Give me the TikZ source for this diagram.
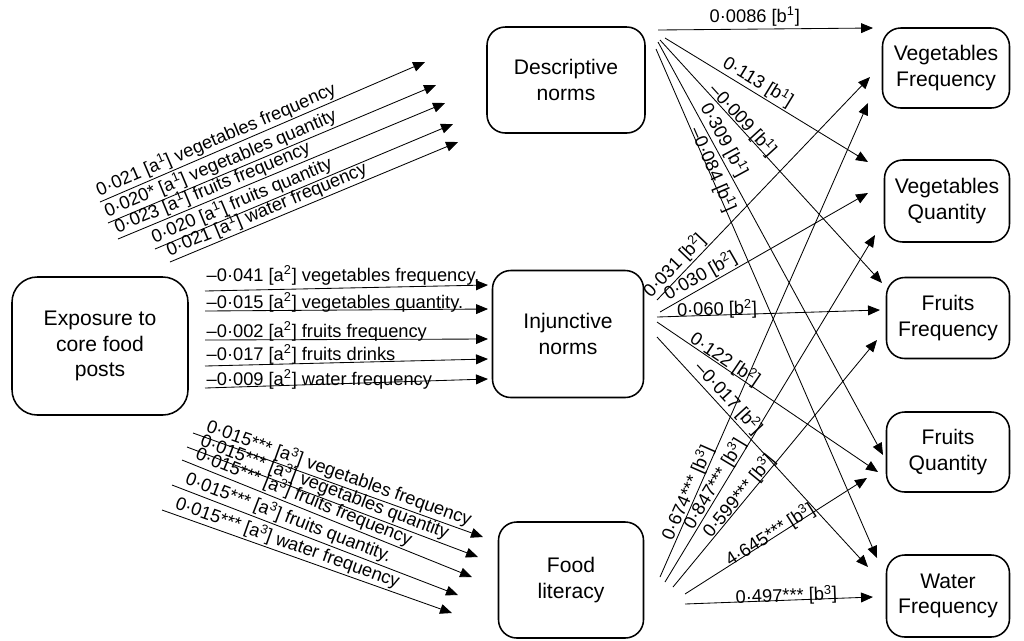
\documentclass[tikz,border=0pt]{standalone}
\usepackage{fontspec}
\setmainfont{Liberation Sans}
\usetikzlibrary{arrows.meta,positioning,calc}
\def\px{0.025cm}
\def\boxfont{\fontsize{15}{18}\selectfont}
\def\coeffont{\fontsize{13}{15}\selectfont}

\tikzset{
  varbox/.style={draw, line width=1.1pt, rounded corners=13pt, align=center, font=\boxfont, inner sep=2pt},
  pathline/.style={-{Triangle[length=8.5pt,width=7pt]}, line width=0.6pt},
  coef/.style={font=\coeffont, inner sep=1pt}
}

\begin{document}
\begin{tikzpicture}[x=\px,y=-\px]
  \useasboundingbox (0,0) rectangle (1024,640);

  \node[varbox, rounded corners=18pt, minimum width=176*\px, minimum height=138*\px] (expo) at (100,346) {Exposure to\\core food\\posts};
  \node[varbox, minimum width=158*\px, minimum height=106*\px] (desc) at (566,80) {Descriptive\\norms};
  \node[varbox, minimum width=151*\px, minimum height=127*\px] (inj) at (568,334) {Injunctive\\norms};
  \node[varbox, minimum width=145*\px, minimum height=116*\px] (food) at (571,580) {Food\\literacy};

  \node[varbox, minimum width=127*\px, minimum height=80*\px] (vf) at (946,68) {Vegetables\\Frequency};
  \node[varbox, minimum width=125*\px, minimum height=82*\px] (vq) at (947,201) {Vegetables\\Quantity};
  \node[varbox, minimum width=123*\px, minimum height=81*\px] (ff) at (948,318) {Fruits\\Frequency};
  \node[varbox, minimum width=123*\px, minimum height=80*\px] (fq) at (948,452) {Fruits\\Quantity};
  \node[varbox, minimum width=123*\px, minimum height=82*\px] (wf) at (948,596) {Water\\Frequency};

  \coordinate (DA1S) at (100,202); \coordinate (DA1E) at (425,62);
  \coordinate (DA2S) at (108,223); \coordinate (DA2E) at (436,85);
  \coordinate (DA3S) at (118,239); \coordinate (DA3E) at (445,103);
  \coordinate (DA4S) at (155,249); \coordinate (DA4E) at (453,124);
  \coordinate (DA5S) at (170,262); \coordinate (DA5E) at (458,142);

  \coordinate (IA1S) at (205,291); \coordinate (IA1E) at (488,285);
  \coordinate (IA2S) at (205,311); \coordinate (IA2E) at (488,309);
  \coordinate (IA3S) at (205,340); \coordinate (IA3E) at (488,339);
  \coordinate (IA4S) at (205,366); \coordinate (IA4E) at (488,359);
  \coordinate (IA5S) at (205,388); \coordinate (IA5E) at (488,379);

  \coordinate (FA1S) at (193,433); \coordinate (FA1E) at (483,537);
  \coordinate (FA2S) at (187,447); \coordinate (FA2E) at (478,557);
  \coordinate (FA3S) at (182,460); \coordinate (FA3E) at (472,577);
  \coordinate (FA4S) at (172,485); \coordinate (FA4E) at (458,595);
  \coordinate (FA5S) at (162,510); \coordinate (FA5E) at (452,613);

  \draw[pathline] (DA1S) -- (DA1E) node[coef, pos=0, sloped, anchor=south west] (DA1-text) {0·021 [a\textsuperscript{1}] vegetables frequency};
  \draw[pathline] (DA2S) -- (DA2E) node[coef, pos=0, sloped, anchor=south west] (DA2-text) {0·020* [a\textsuperscript{1}] vegetables quantity};
  \draw[pathline] (DA3S) -- (DA3E) node[coef, pos=0, sloped, anchor=south west] (DA3-text) {0·023 [a\textsuperscript{1}] fruits frequency};
  \draw[pathline] (DA4S) -- (DA4E) node[coef, pos=0, sloped, anchor=south west] (DA4-text) {0·020 [a\textsuperscript{1}] fruits quantity};
  \draw[pathline] (DA5S) -- (DA5E) node[coef, pos=0, sloped, anchor=south west] (DA5-text) {0·021 [a\textsuperscript{1}] water frequency};

  \draw[pathline] (IA1S) -- (IA1E);
  \draw[pathline] (IA2S) -- (IA2E);
  \draw[pathline] (IA3S) -- (IA3E);
  \draw[pathline] (IA4S) -- (IA4E);
  \draw[pathline] (IA5S) -- (IA5E);
  \node[coef, anchor=base west] (IA1-text) at ($ (IA1S) + (0,-10) $) {–0·041 [a\textsuperscript{2}] vegetables frequency.};
  \node[coef, anchor=base west] (IA2-text) at ($ (IA2S) + (0,-3) $) {–0·015 [a\textsuperscript{2}] vegetables quantity.};
  \node[coef, anchor=base west] (IA3-text) at ($ (IA3S) + (0,-3) $) {–0·002 [a\textsuperscript{2}] fruits frequency};
  \node[coef, anchor=base west] (IA4-text) at ($ (IA4S) + (0,-6) $) {–0·017 [a\textsuperscript{2}] fruits drinks};
  \node[coef, anchor=base west] (IA5-text) at ($ (IA5S) + (0,-3) $) {–0·009 [a\textsuperscript{2}] water frequency};

  \draw[pathline] (FA1S) -- (FA1E) node[coef, pos=0.03, sloped, anchor=south west] (FA1-text) {0·015*** [a\textsuperscript{3}] vegetables frequency};
  \draw[pathline] (FA2S) -- (FA2E) node[coef, pos=0.03, sloped, anchor=south west] (FA2-text) {0·015*** [a\textsuperscript{3}] vegetables quantity};
  \draw[pathline] (FA3S) -- (FA3E) node[coef, pos=0.03, sloped, anchor=south west] (FA3-text) {0·015*** [a\textsuperscript{3}] fruits frequency};
  \draw[pathline] (FA4S) -- (FA4E) node[coef, pos=0.03, sloped, anchor=south west] (FA4-text) {0·015*** [a\textsuperscript{3}] fruits quantity.};
  \draw[pathline] (FA5S) -- (FA5E) node[coef, pos=0.03, sloped, anchor=south west] (FA5-text) {0·015*** [a\textsuperscript{3}] water frequency};

  \coordinate (DB1S) at (658,30); \coordinate (DB1E) at (873,28);
  \coordinate (DB2S) at (665,38); \coordinate (DB2E) at (868,162);
  \coordinate (DB3S) at (660,40); \coordinate (DB3E) at (882,283);
  \coordinate (DB4S) at (658,42); \coordinate (DB4E) at (883,455);
  \coordinate (DB5S) at (656,49); \coordinate (DB5E) at (877,558);

  \coordinate (IB1S) at (657,300); \coordinate (IB1E) at (870,77);
  \coordinate (IB2S) at (660,312); \coordinate (IB2E) at (868,193);
  \coordinate (IB3S) at (657,317); \coordinate (IB3E) at (880,310);
  \coordinate (IB4S) at (657,322); \coordinate (IB4E) at (878,472);
  \coordinate (IB5S) at (657,337); \coordinate (IB5E) at (868,567);

  \coordinate (FB1S) at (660,577); \coordinate (FB1E) at (868,103);
  \coordinate (FB2S) at (665,582); \coordinate (FB2E) at (875,235);
  \coordinate (FB3S) at (673,587); \coordinate (FB3E) at (877,340);
  \coordinate (FB4S) at (685,594); \coordinate (FB4E) at (867,478);
  \coordinate (FB5S) at (685,604); \coordinate (FB5E) at (873,597);

  \draw[pathline] (DB1S) -- (DB1E) node[coef, pos=0.45, above=1pt] (DB1-text) {0·0086 [b\textsuperscript{1}]};
  \draw[pathline] (DB2S) -- (DB2E) node[coef, pos=0.43, sloped, above] (DB2-text) {0·113 [b\textsuperscript{1}]};
  \draw[pathline] (DB3S) -- (DB3E) node[coef, pos=0.35, sloped, above=-3pt] (DB3-text) {–0·009 [b\textsuperscript{1}]};
  \draw[pathline] (DB4S) -- (DB4E) node[coef, pos=0.25, sloped, above] (DB4-text) {0·309 [b\textsuperscript{1}]};
  \draw[pathline] (DB5S) -- (DB5E) node[coef, pos=0.24, sloped, above=-5pt] (DB5-text) {–0·084 [b\textsuperscript{1}]};

  \draw[pathline] (IB1S) -- (IB1E) node[coef, pos=0.12, sloped, above] (IB1-text) {0·031 [b\textsuperscript{2}]};
  \draw[pathline] (IB2S) -- (IB2E) node[coef, pos=0.22, sloped, above] (IB2-text) {0·030 [b\textsuperscript{2}]};
  \draw[pathline] (IB3S) -- (IB3E) node[coef, pos=0.27, sloped, above=-4pt] (IB3-text) {0·060 [b\textsuperscript{2}]};
  \draw[pathline] (IB4S) -- (IB4E) node[coef, pos=0.29, sloped, above=-3pt] (IB4-text) {0·122 [b\textsuperscript{2}]};
  \draw[pathline] (IB5S) -- (IB5E) node[coef, pos=0.30, sloped, above] (IB5-text) {–0·017 [b\textsuperscript{2}]};

  \draw[pathline] (FB1S) -- (FB1E) node[coef, pos=0.17, sloped, above=-2pt] (FB1-text) {0·674*** [b\textsuperscript{3}]};
  \draw[pathline] (FB2S) -- (FB2E) node[coef, pos=0.27, sloped, above=-2pt] (FB2-text) {0·847*** [b\textsuperscript{3}]};
  \draw[pathline] (FB3S) -- (FB3E) node[coef, pos=0.35, sloped, above=-3pt] (FB3-text) {0·599*** [b\textsuperscript{3}]};
  \draw[pathline] (FB4S) -- (FB4E) node[coef, pos=0.48, sloped, above=-5pt] (FB4-text) {4·645*** [b\textsuperscript{3}]};
  \draw[pathline] (FB5S) -- (FB5E) node[coef, pos=0.54, sloped, above=-5pt] (FB5-text) {0·497*** [b\textsuperscript{3}]};

\end{tikzpicture}
\end{document}
